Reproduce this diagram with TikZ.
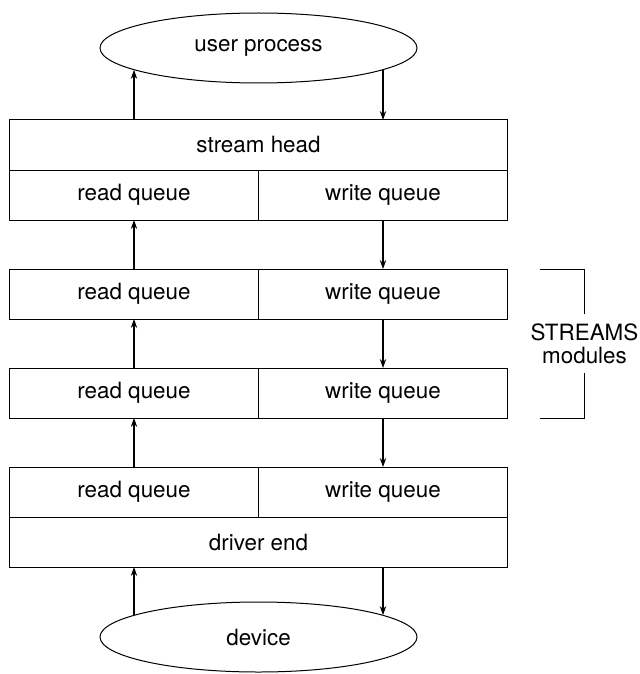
\documentclass[tikz,border=0pt]{standalone}
\usepackage{fontspec}
\setmainfont{TeX Gyre Heros}
\usetikzlibrary{positioning, arrows.meta, shapes.geometric, calc}

\begin{document}
\begin{tikzpicture}[
    x=0.5pt, y=-0.5pt, % one unit is one pixel of the figure
    every node/.style={inner sep=0pt, outer sep=0pt, font=\fontsize{11.2pt}{11.5pt}\selectfont},
    wide/.style={draw, line width=0.5pt, minimum width=249pt, minimum height=25pt},
    half/.style={draw, line width=0.5pt, minimum width=124.5pt, minimum height=25pt},
    blob/.style={draw, line width=0.5pt, ellipse, minimum width=158.5pt, minimum height=35pt},
    flow/.style={-{Stealth[length=4.5pt,width=3.2pt]}, line width=0.6pt}
]
    \useasboundingbox (0,0) rectangle (640,674);

    % user side
    \node[blob] (userproc) at (258.5,48) {user process};
    \node[wide] (head) [below=18.5pt of userproc] {stream head};
    \node[half] (rq0) [below right=0pt of head.south west] {read queue};
    \node[half] (wq0) [right=0pt of rq0] {write queue};

    % the modules
    \node[half] (rq1) [below=24.5pt of rq0] {read queue};
    \node[half] (wq1) [right=0pt of rq1] {write queue};
    \node[half] (rq2) [below=24.5pt of rq1] {read queue};
    \node[half] (wq2) [right=0pt of rq2] {write queue};

    % device side
    \node[half] (rq3) [below=24.5pt of rq2] {read queue};
    \node[half] (wq3) [right=0pt of rq3] {write queue};
    \node[wide] (driver) [below right=0pt of rq3.south west] {driver end};
    \node[blob] (device) [below=17.5pt of driver] {device};

    % data flow
    \draw[flow] (head.north -| rq0) -- (userproc.190 -| rq0);
    \draw[flow] (userproc.350 -| wq0) -- (head.north -| wq0);
    \draw[flow] (rq1) -- (rq0);
    \draw[flow] (wq0) -- (wq1);
    \draw[flow] (rq2) -- (rq1);
    \draw[flow] (wq1) -- (wq2);
    \draw[flow] (rq3) -- (rq2);
    \draw[flow] (wq2) -- (wq3);
    \draw[flow] (device.170 -| rq3) -- (driver.south -| rq3);
    \draw[flow] (driver.south -| wq3) -- (device.10 -| wq3);

    % bracket round the modules
    \coordinate (brtop) at ([xshift=38.5pt]wq1.north east);
    \coordinate (brbot) at ([xshift=38.5pt]wq2.south east);
    \node[align=center, inner ysep=4.5pt] (streams) at ($(brtop)!0.5!(brbot)$) {STREAMS\\modules};
    \draw[line width=0.5pt] ([xshift=-22.5pt]brtop) -- (brtop) -- (streams.north);
    \draw[line width=0.5pt] ([xshift=-22.5pt]brbot) -- (brbot) -- (streams.south);
\end{tikzpicture}
\end{document}
